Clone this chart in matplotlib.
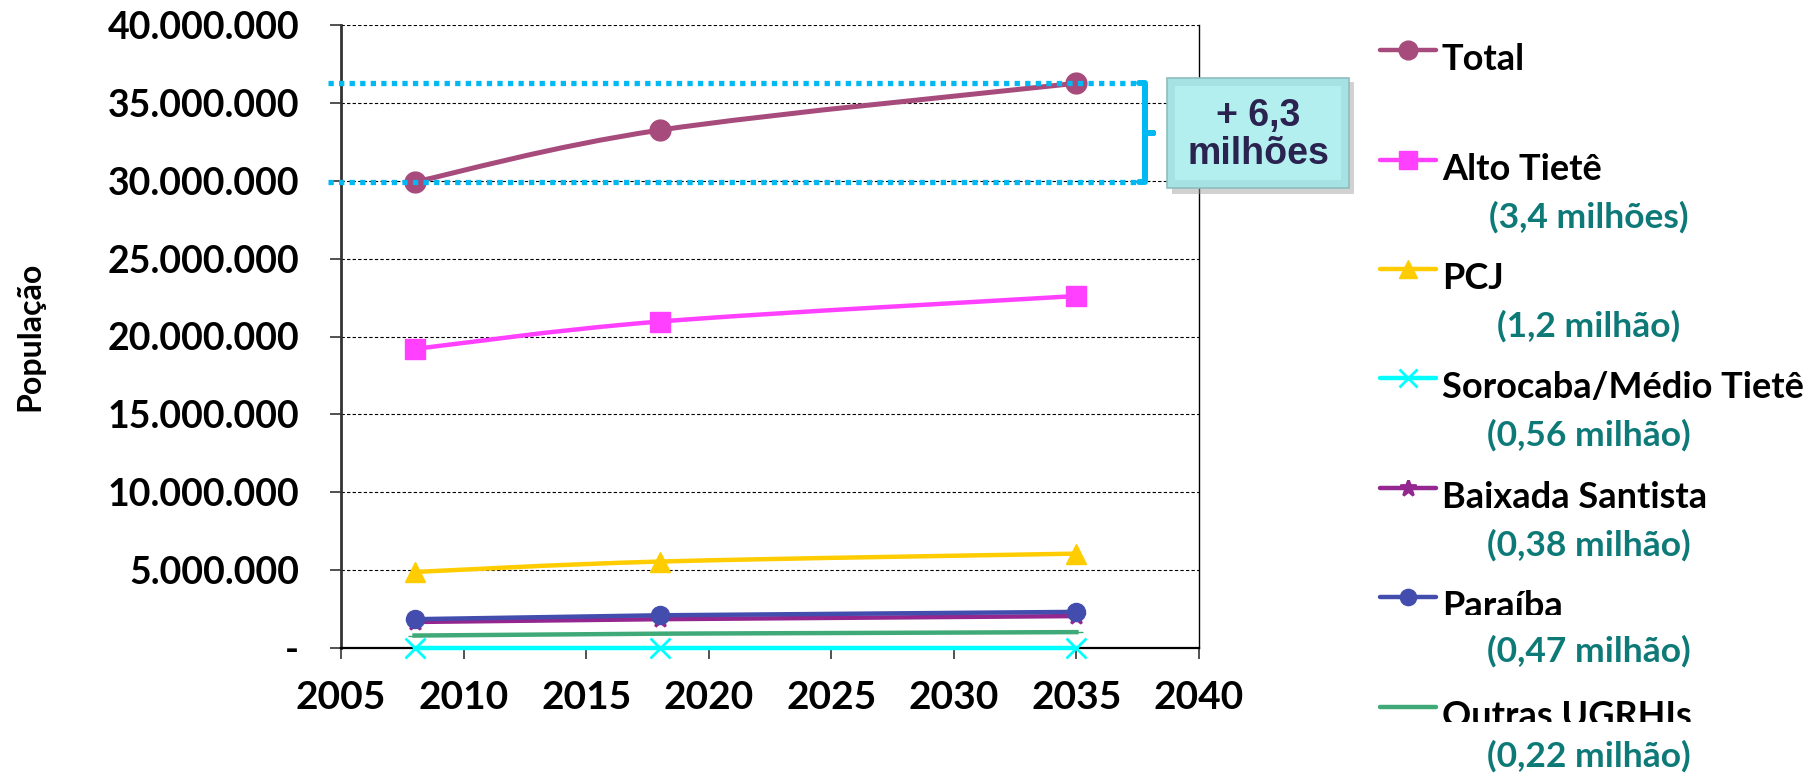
"""Projeção de população por UGRHI (2008-2035), com destaque do acréscimo total."""

import matplotlib
matplotlib.use("Agg")
import matplotlib.pyplot as plt
import numpy as np
from matplotlib.lines import Line2D
from matplotlib.patches import Rectangle, PathPatch
from matplotlib.path import Path
from matplotlib.transforms import Bbox, blended_transform_factory

plt.rcParams["font.family"] = ["Lato", "DejaVu Sans"]
plt.rcParams["font.weight"] = "bold"
plt.rcParams["axes.labelweight"] = "bold"

W, H = 1804, 773

years = [2008, 2018, 2035]
total = [29.92e6, 33.25e6, 36.26e6]
alto_tiete = [19.2e6, 20.96e6, 22.6e6]
pcj = [4.88e6, 5.55e6, 6.06e6]
sorocaba = [0, 0, 0]
baixada = [1.67e6, 1.85e6, 2.05e6]
paraiba = [1.85e6, 2.1e6, 2.32e6]
outras = [0.8e6, 0.92e6, 1.02e6]

names = ["Total", "Alto Tietê", "PCJ", "Sorocaba/Médio Tietê",
         "Baixada Santista", "Paraíba", "Outras UGRHIs"]
increments = [None, "(3,4 milhões)", "(1,2 milhão)", "(0,56 milhão)",
              "(0,38 milhão)", "(0,47 milhão)", "(0,22 milhão)"]
series = [total, alto_tiete, pcj, sorocaba, baixada, paraiba, outras]
colors = ["#A64B7B", "#FF40FF", "#FFCC00", "#00FFFF",
          "#93278F", "#434DAD", "#3FA977"]
markers = ["o", "s", "^", "x", "*", "o", "_"]
msizes = [15, 14, 14, 14, 13, 13, 10]
smooth = [True, True, True, False, False, False, False]

yticks = np.arange(0, 40e6 + 1, 5e6)
ytick_labels = ["-"] + [f"{int(v):,}".replace(",", ".") for v in yticks[1:]]
xticks = np.arange(2005, 2041, 5)

TEAL = "#0E7A78"
CYAN = "#00B9F2"


def fx(x):
    return x / W


def fy(y):
    return 1 - y / H


def smooth_path(xs, ys):
    """Excel-style smoothed line (Bezier through the points)."""
    p = np.column_stack([xs, ys]).astype(float)
    ext = np.vstack([p[0], p, p[-1]])
    verts = [p[0]]
    codes = [Path.MOVETO]
    for i in range(len(p) - 1):
        a, b, c, d = ext[i], ext[i + 1], ext[i + 2], ext[i + 3]
        verts += [b + (c - a) / 6, c - (d - b) / 6, c]
        codes += [Path.CURVE4] * 3
    return Path(verts, codes)


fig = plt.figure(figsize=(W / 100, H / 100), dpi=100)
ax = fig.add_axes([fx(341), fy(648), fx(1199 - 341), (648 - 25) / H])

for ys, col, mk, ms, sm in zip(series, colors, markers, msizes, smooth):
    lw = 3.6 if col == colors[0] else 3.2
    if sm:
        ax.add_patch(PathPatch(smooth_path(years, ys), fill=False,
                               edgecolor=col, lw=lw, capstyle="round",
                               zorder=3))
        ax.plot(years, ys, ls="none", marker=mk, ms=ms, color=col, zorder=4)
    else:
        ax.plot(years, ys, marker=mk, ms=ms, color=col, lw=lw,
                mew=2 if mk in "x*" else 1, zorder=3, clip_on=False)

ax.set_xlim(2005, 2040)
ax.set_ylim(0, 40e6)
ax.set_xticks(xticks)
ax.set_yticks(yticks)
ax.set_yticklabels(ytick_labels)
ax.tick_params(axis="both", length=8, width=1.2, color="#333333")
ax.tick_params(axis="x", labelsize=28, pad=15)
ax.tick_params(axis="y", labelsize=27, pad=22)
ax.grid(axis="y", color="black", lw=0.8, ls=(0, (3, 2)))
ax.spines["top"].set_visible(False)
ax.spines["left"].set_linewidth(2)
ax.spines["left"].set_color("#333333")
ax.spines["bottom"].set_linewidth(1.6)
ax.spines["right"].set_linewidth(1)
ax.set_ylabel("População", fontsize=23, weight="bold")
ax.yaxis.set_label_coords((44 - 341) / 858, 0.5)

# dotted guides + brace for the total increase
tr = blended_transform_factory(ax.transAxes, ax.transData)
y_top, y_bot = total[-1], total[0]
for yv in (y_top, y_bot):
    ax.plot([-0.015, 0.93], [yv, yv], transform=tr, color=CYAN, lw=3.8,
            ls=(0, (1, 1)), clip_on=False, zorder=5)
ymid = (y_top + y_bot) / 2
ax.plot([0.93, 0.937, 0.937, 0.946, 0.937, 0.937, 0.93],
        [y_top, y_top, ymid, ymid, ymid, y_bot, y_bot], transform=tr,
        color=CYAN, lw=4.3, solid_joinstyle="round", solid_capstyle="round",
        clip_on=False, zorder=5)

# "+ 6,3 milhões" box
fig.add_artist(Rectangle((fx(1172), fy(194)), fx(182), (194 - 82) / H,
                         transform=fig.transFigure, facecolor="#9A9A9A",
                         edgecolor="none", alpha=0.45, zorder=6))
fig.add_artist(Rectangle((fx(1167), fy(188)), fx(182), (188 - 78) / H,
                         transform=fig.transFigure, facecolor="#A6E2E3",
                         edgecolor="#8DBDBE", lw=1.2, zorder=7))
fig.add_artist(Rectangle((fx(1175), fy(180)), fx(166), (180 - 86) / H,
                         transform=fig.transFigure, facecolor="#B4EFEF",
                         edgecolor="none", zorder=7))
fig.text(fx(1258), fy(135), "+ 6,3\nmilhões", ha="center", va="center",
         fontsize=27, color="#2A2350", family="Liberation Sans",
         weight="bold", linespacing=1.1, zorder=8)

# legend drawn by hand (uneven layout with increments below)
base_y = [70, 180, 289, 398, 508, 617, 727]
inc_y = [None, 228, 337, 446, 556, 662, 767]
clip_y = [None, None, None, None, None, 615, 722]
for name, inc, col, mk, ms, by, iy, cy in zip(
        names, increments, colors, markers, msizes, base_y, inc_y, clip_y):
    ly = by - 20
    fig.add_artist(Line2D([fx(1380), fx(1436)], [fy(ly), fy(ly)],
                          transform=fig.transFigure, color=col, lw=3.2,
                          solid_capstyle="round"))
    if mk != "_":
        fig.add_artist(Line2D([fx(1408)], [fy(ly)], transform=fig.transFigure,
                              marker=mk, ms=ms * 0.9, color=col,
                              mew=2 if mk in "x*" else 1, ls="none"))
    t = fig.text(fx(1442), fy(by), name, ha="left", va="baseline",
                 fontsize=26, color="black")
    if cy is not None:
        t.set_clip_box(Bbox.from_extents(0, H - cy, W, H))
        t.set_clip_on(True)
    if inc:
        fig.text(fx(1589), fy(iy), inc, ha="center", va="baseline",
                 fontsize=25.5, color=TEAL)

fig.savefig("out.png", dpi=100)
